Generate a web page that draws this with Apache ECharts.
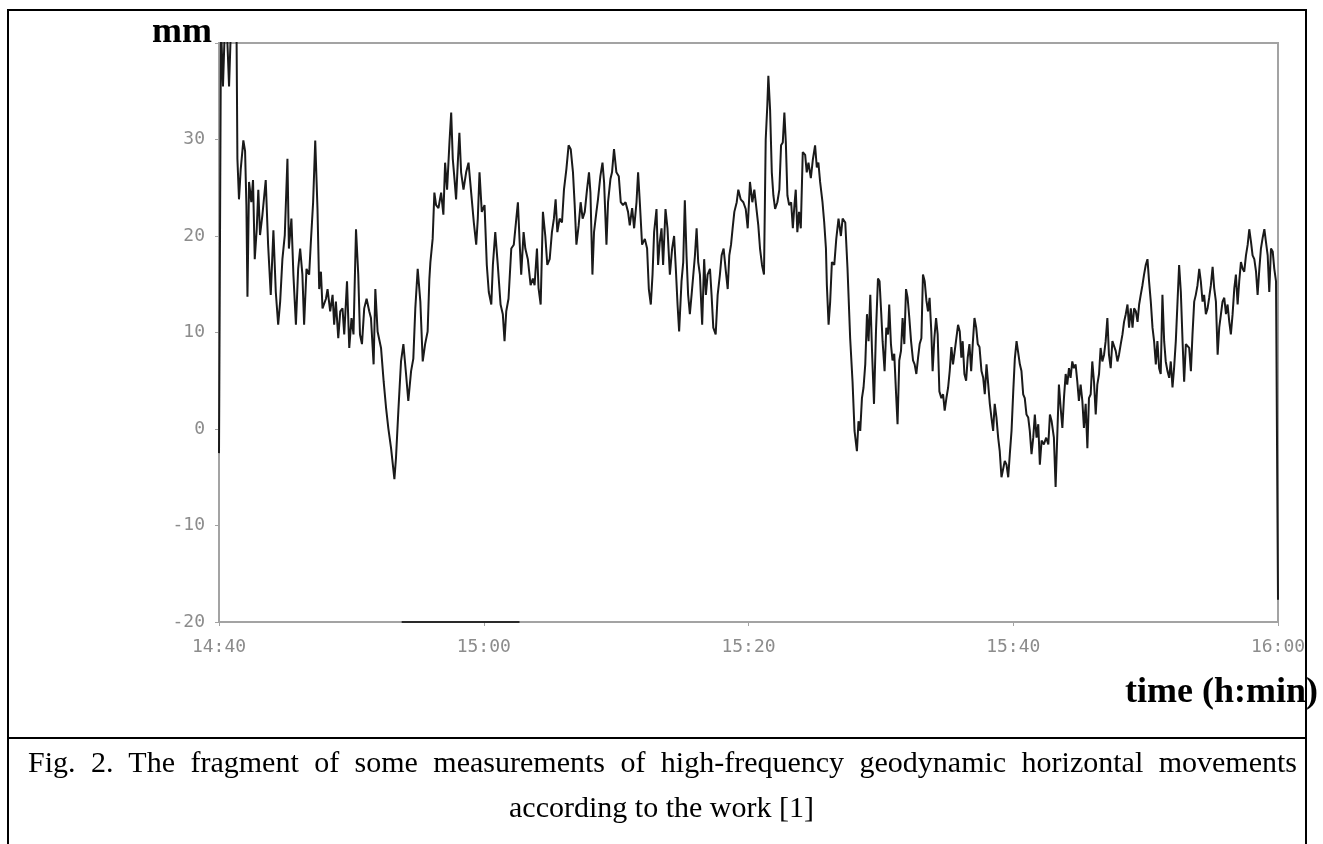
<!DOCTYPE html>
<html>
<head>
<meta charset="utf-8">
<title>Fig. 2</title>
<script src="https://cdn.jsdelivr.net/npm/echarts@6/dist/echarts.min.js"></script>
<style>
  html, body { margin: 0; padding: 0; background: #fff; }
  #wrap { position: relative; width: 1323px; height: 844px; }
  #chart { position: absolute; left: 0; top: 0; width: 1323px; height: 844px; }
  .cap {
    position: absolute; font-family: "Liberation Serif", "Times New Roman", serif;
    font-size: 30px; color: #000; white-space: nowrap; line-height: 30px;
  }
  #cap1 { left: 28px; width: 1269px; top: 747px; text-align: justify; text-align-last: justify; white-space: normal; }
  #cap2 { left: 0; width: 1323px; top: 792px; text-align: center; }
</style>
</head>
<body>
<div id="wrap">
  <div id="chart"></div>
  <div class="cap" id="cap1"></div>
  <div class="cap" id="cap2"></div>
</div>
<script>
// minutes after 14:40, horizontal displacement in mm
var samples = [
    [0,-2.5],[0.15,42],[0.30,35.5],[0.45,42],[0.61,41],[0.76,35.5],[0.91,42],[1.06,42],[1.32,42],[1.39,28],
    [1.51,23.8],[1.64,26.9],[1.84,29.9],[1.97,28.8],[2.07,23.2],[2.15,13.7],[2.27,25.6],[2.44,23.5],[2.57,25.8],[2.70,17.6],
    [2.85,20.7],[2.97,24.8],[3.10,20.1],[3.28,22.2],[3.53,25.8],[3.71,19.1],[3.91,13.9],[4.11,20.6],[4.29,14.2],[4.47,10.8],
    [4.62,13.2],[4.79,17.6],[4.97,20.1],[5.17,28.0],[5.28,18.7],[5.47,21.8],[5.62,16.0],[5.81,10.8],[5.98,16.6],[6.13,18.7],
    [6.30,16.0],[6.43,10.8],[6.61,16.6],[6.81,16.0],[6.94,19.4],[7.11,23.5],[7.27,29.9],[7.44,22.8],[7.57,14.5],[7.70,16.3],
    [7.82,12.5],[8.08,13.5],[8.20,14.5],[8.40,12.2],[8.58,13.9],[8.70,10.8],[8.83,13.2],[9.01,9.4],[9.16,12.2],[9.33,12.5],
    [9.46,9.8],[9.67,15.3],[9.84,8.4],[10.01,11.5],[10.16,9.8],[10.35,20.7],[10.52,16.0],[10.65,9.8],[10.80,8.8],[10.97,12.5],
    [11.15,13.5],[11.35,12.2],[11.48,11.5],[11.68,6.7],[11.81,14.5],[11.98,10.1],[12.24,8.4],[12.44,4.9],[12.62,2.2],[12.79,0.1],
    [13.00,-2.0],[13.25,-5.2],[13.37,-3.0],[13.55,1.9],[13.75,7.0],[13.93,8.8],[14.13,5.7],[14.30,2.9],[14.51,6.0],[14.68,7.3],
    [14.83,12.5],[15.01,16.6],[15.21,13.2],[15.39,7.0],[15.57,8.8],[15.76,10.1],[15.89,15.5],[15.97,17.3],[16.14,19.7],[16.27,24.5]
];
var samples2 = [
    [16.40,23.2],[16.58,22.9],[16.78,24.5],[16.95,22.2],[17.08,27.6],[17.23,24.8],[17.41,29.7],[17.54,32.8],[17.66,28.0],[17.79,25.9],
    [17.91,23.8],[18.04,27.6],[18.16,30.7],[18.29,26.6],[18.47,24.8],[18.67,26.6],[18.85,27.6],[19.05,24.5],[19.25,21.4],[19.43,19.1],
    [19.55,21.8],[19.68,26.6],[19.85,22.5],[20.06,23.2],[20.23,17.0],[20.38,14.2],[20.57,12.9],[20.69,17.0],[20.87,20.4],[21.06,17.0],
    [21.27,12.9],[21.44,11.9],[21.57,9.1],[21.70,12.2],[21.87,13.5],[22.08,18.7],[22.27,19.1],[22.46,21.8],[22.58,23.5],[22.71,19.4],
    [22.83,16.0],[23.01,20.4],[23.14,18.7],[23.33,17.6],[23.54,14.9],[23.71,15.6],[23.84,14.9],[24.02,18.7],[24.14,14.6],[24.30,12.9],
    [24.47,22.5],[24.65,20.0],[24.80,17.0],[24.98,17.6],[25.15,20.4],[25.30,21.8],[25.43,23.8],[25.56,20.4],[25.73,21.8],[25.91,21.4],
    [26.06,24.8],[26.24,26.9],[26.41,29.4],[26.57,29.0],[26.74,26.6],[26.87,23.2],[27.00,19.1],[27.17,21.1],[27.32,23.5],[27.47,21.8],
    [27.63,22.5],[27.80,24.8],[27.95,26.6],[28.06,24.5],[28.21,16.0],[28.33,20.4],[28.51,22.5],[28.63,23.8],[28.81,26.2],[28.97,27.6],
    [29.09,25.6],[29.27,19.1],[29.39,23.5],[29.57,25.9],[29.69,26.6],[29.84,29.0],[30.02,26.6],[30.20,26.2],[30.35,23.5],[30.52,23.2],
    [30.71,23.5],[30.90,22.5],[31.03,21.1],[31.21,22.9],[31.36,20.8],[31.54,23.5],[31.66,26.6],[31.79,23.5]
];
var samples3 = [
    [31.96,19.1],[32.17,19.7],[32.34,18.7],[32.47,14.5],[32.62,12.9],[32.75,16.0],[32.87,20.4],[33.05,22.8],[33.17,17.0],[33.30,19.4],
    [33.43,20.8],[33.55,17.0],[33.73,22.8],[33.88,20.8],[34.06,16.0],[34.23,18.7],[34.38,20.0],[34.51,16.6],[34.64,12.9],[34.76,10.1],
    [34.94,15.3],[35.07,17.3],[35.19,23.7],[35.32,17.9],[35.44,13.9],[35.57,11.9],[35.70,13.9],[35.82,13.9],[35.95,17.9],[36.08,20.8],
    [36.20,17.3],[36.33,16.0],[36.50,10.8],[36.65,17.6],[36.78,13.9],[36.91,16.0],[37.09,16.6],[37.21,13.9],[37.34,10.5],[37.52,9.8],
    [37.67,13.9],[37.84,16.0],[37.97,18.0],[38.12,18.7],[38.27,16.6],[38.43,14.5],[38.55,18.0],[38.68,19.1],[38.80,20.8],[38.93,22.5],
    [39.11,23.5],[39.23,24.8],[39.41,23.8],[39.61,23.5],[39.79,22.8],[39.94,20.8],[40.11,25.6],[40.29,23.5],[40.44,24.8],[40.57,23.2],
    [40.74,21.1],[40.87,18.7],[41.02,17.0],[41.17,16.0],[41.30,30.0],[41.42,33.5],[41.50,36.6],[41.63,33.1],[41.76,26.6],[41.88,24.2],
    [42.01,22.8],[42.18,23.5],[42.33,24.8],[42.46,29.4],[42.59,29.7],[42.71,32.8],[42.82,29.7],[42.94,24.2],[43.07,23.2],[43.22,23.5],
    [43.35,20.8],[43.47,23.2],[43.57,24.8],[43.69,20.4],[43.82,22.5],[43.95,20.8],[44.10,28.7],[44.28,28.4],[44.40,26.6],[44.53,27.6],
    [44.71,26.0],[44.86,27.9],[45.03,29.4],[45.16,27.1],[45.28,27.6],[45.41,25.6],[45.59,23.5],[45.72,21.4],[45.85,18.7],[45.92,14.9],
    [46.05,10.8],[46.17,13.2],[46.30,17.3],[46.48,17.0],[46.63,19.7],[46.80,21.8],[46.98,20.0],[47.11,21.8],[47.31,21.4],[47.48,16.6]
];
var samples4 = [
    [47.68,9.4],[47.86,4.9],[48.01,-0.2],[48.19,-2.3],[48.31,0.8],[48.44,-0.2],[48.57,3.2],[48.69,4.3],[48.82,6.7],[48.95,11.9],
    [49.07,9.1],[49.20,13.9],[49.33,8.1],[49.48,2.6],[49.63,10.1],[49.78,15.6],[49.90,15.3],[50.03,11.9],[50.13,9.1],[50.28,6.0],
    [50.41,10.5],[50.54,9.8],[50.63,12.9],[50.76,8.8],[50.88,7.1],[51.01,7.8],[51.14,3.9],[51.26,0.5],[51.39,7.1],[51.52,8.1],
    [51.64,11.5],[51.77,8.8],[51.90,14.5],[52.02,13.6],[52.15,11.5],[52.28,9.1],[52.43,7.1],[52.55,6.7],[52.68,5.7],[52.81,7.4],
    [52.93,8.8],[53.06,9.4],[53.18,16.0],[53.31,15.3],[53.44,13.3],[53.56,12.2],[53.68,13.6],[53.81,10.1],[53.91,6.0],[54.04,9.4],
    [54.17,11.5],[54.29,9.8],[54.42,3.9],[54.57,3.2],[54.70,3.6],[54.82,1.9],[54.95,3.2],[55.08,4.3],[55.20,6.0],[55.33,8.5],
    [55.45,6.7],[55.58,8.1],[55.70,8.1],[55.83,10.8],[55.96,10.1],[56.08,7.4],[56.18,9.1],[56.31,5.7],[56.44,5.0],[56.56,7.4],
    [56.69,8.8],[56.82,6.0],[56.94,8.8],[57.07,11.5],[57.20,10.5],[57.32,8.8],[57.45,8.5],[57.60,6.0],[57.73,5.3],[57.85,3.6],
    [57.98,6.7],[58.11,4.6],[58.23,2.6],[58.35,1.2],[58.48,-0.2],[58.60,2.6],[58.73,1.2],[58.86,-0.9],[58.98,-2.3],[59.11,-5.0],
    [59.24,-5.0],[59.36,-3.3],[59.49,-3.7],[59.62,-5.0],[59.74,-2.6],[59.87,-0.2],[60.00,3.9],[60.12,7.3],[60.25,9.1],[60.37,9.1],
    [60.50,6.7],[60.62,6.0],[60.75,3.6],[60.87,3.2],[61.00,1.5],[61.13,1.2],[61.25,-0.2],[61.38,-2.6],[61.51,-0.9],[61.63,1.5],
    [61.76,-0.9],[61.89,0.5],[62.01,-3.7],[62.14,-1.2],[62.31,-1.6],[62.49,-0.9],[62.65,-1.6],[62.77,1.5],[62.90,0.8],[63.07,-0.9],
    [63.20,-6.0],[63.33,-0.5],[63.45,4.6],[63.58,2.2],[63.71,0.1],[63.83,3.2],[63.96,5.7],[64.08,4.6],[64.21,6.3],[64.33,5.3]
];
var samples5 = [
    [64.46,7.0],[64.58,6.3],[64.71,6.7],[64.84,4.9],[64.96,2.9],[65.09,4.6],[65.22,2.9],[65.34,0.1],[65.47,2.6],[65.60,-2.0],
    [65.72,3.2],[65.85,3.6],[65.97,7.0],[66.10,4.9],[66.23,1.5],[66.35,4.6],[66.48,5.7],[66.60,8.4],[66.73,7.0],[66.86,7.7],
    [66.98,9.1],[67.11,11.5],[67.23,7.7],[67.36,6.3],[67.49,9.1],[67.61,9.1],[67.74,8.1],[67.87,7.0],[67.99,7.7],[68.12,8.8],
    [68.25,9.8],[68.37,11.1],[68.50,11.9],[68.63,12.9],[68.75,10.5],[68.88,12.5],[69.01,10.5],[69.13,12.5],[69.26,12.2],[69.39,11.1],
    [69.51,12.9],[69.63,13.9],[69.76,14.9],[69.88,16.0],[70.01,17.0],[70.14,17.6],[70.26,15.3],[70.39,13.2],[70.52,10.5],[70.64,9.1],
    [70.77,6.7],[70.89,9.1],[71.02,6.3],[71.14,5.7],[71.27,13.9],[71.40,9.1],[71.52,7.0],[71.65,6.0],[71.78,5.3],[71.90,7.0],
    [72.03,4.3],[72.15,6.3],[72.28,9.1],[72.41,13.2],[72.53,17.0],[72.66,14.2],[72.79,9.1],[72.91,4.9],[73.04,8.8],[73.16,8.8],
    [73.29,8.4],[73.42,6.0],[73.54,9.8],[73.67,13.2],[73.79,13.9],[73.92,14.9],[74.05,16.6],[74.17,15.3],[74.30,13.2],[74.42,13.9],
    [74.55,11.9],[74.68,12.5],[74.80,13.6],[74.93,14.9],[75.06,16.8],[75.18,14.6],[75.31,13.2],[75.44,7.7],[75.56,10.5],[75.69,11.9],
    [75.81,13.2],[75.94,13.6],[76.07,11.9],[76.19,12.9],[76.32,11.1],[76.44,9.8],[76.57,11.9],[76.70,14.6],[76.82,16.0],[76.95,12.9],
    [77.07,15.3],[77.20,17.3],[77.33,16.6],[77.45,16.3],[77.58,18.0],[77.71,19.1],[77.83,20.7],[77.96,19.4],[78.08,18.0],[78.21,17.6],
    [78.34,16.3],[78.46,13.9],[78.59,16.6],[78.71,18.7],[78.84,19.8],[78.97,20.7],[79.09,19.4],[79.22,18.0],[79.34,14.2],[79.47,18.7],
    [79.60,18.4],[79.72,16.6],[79.85,15.3],[80.0,-17.7]
];
// dark stretch lying on the bottom edge of the plot
var bottomStroke = [[13.8,-20],[22.7,-20]];

var yTicks = {min: -20, max: 40, step: 10};
var xTicks = {min: 0, max: 80, step: 20};
var startHour = 14, startMin = 40;

var captionLine1 = 'Fig. 2. The fragment of some measurements of high-frequency geodynamic horizontal movements';
var captionLine2 = 'according to the work [1]';

function clockLabel(m) {
    var t = startHour * 60 + startMin + m;
    var h = Math.floor(t / 60), mm = t % 60;
    return h + ':' + (mm < 10 ? '0' + mm : mm);
}

document.getElementById('cap1').textContent = captionLine1;
document.getElementById('cap2').textContent = captionLine2;

var chart = echarts.init(document.getElementById('chart'));
var serif = '"Liberation Serif", "Times New Roman", serif';
var grey = '#a3a3a3';

var option = {
    animation: false,
    grid: {
        left: 219, top: 43, right: 45, bottom: 222,
        show: true, borderColor: grey, borderWidth: 2
    },
    xAxis: {
        type: 'value',
        min: xTicks.min, max: xTicks.max, interval: xTicks.step,
        axisLine: {onZero: false, lineStyle: {color: grey, width: 2}},
        axisTick: {show: true, length: 4, lineStyle: {color: grey}},
        splitLine: {show: false},
        axisLabel: {
            color: '#8c8c8c', fontFamily: 'DejaVu Sans Mono', fontSize: 18, margin: 16,
            formatter: clockLabel
        }
    },
    yAxis: {
        type: 'value',
        min: yTicks.min, max: yTicks.max, interval: yTicks.step,
        axisLine: {show: true, onZero: false, lineStyle: {color: grey, width: 2}},
        axisTick: {show: true, length: 4, lineStyle: {color: grey}},
        splitLine: {show: false},
        axisLabel: {
            color: '#8c8c8c', fontFamily: 'DejaVu Sans Mono', fontSize: 18, margin: 14,
            formatter: function (v) { return v === yTicks.max ? '' : v; }
        }
    },
    series: [
        {
            type: 'line',
            data: samples.concat(samples2, samples3, samples4, samples5),
            symbol: 'none',
            clip: true,
            lineStyle: {color: '#1a1a1a', width: 2}
        },
        {
            type: 'line',
            data: bottomStroke,
            symbol: 'none',
            clip: false,
            lineStyle: {color: '#2a2a2a', width: 2}
        }
    ],
    graphic: [
        {type: 'text', z: 10, style: {x: 152, y: 33, text: 'mm', font: 'bold 36px ' + serif, fill: '#000', verticalAlign: 'middle'}},
        {type: 'text', z: 10, style: {x: 1125, y: 693, text: 'time (h:min)', font: 'bold 36px ' + serif, fill: '#000', verticalAlign: 'middle'}},
        {type: 'rect', z: 20, shape: {x: 8, y: 10, width: 1298, height: 840}, style: {fill: null, stroke: '#000', lineWidth: 2}},
        {type: 'line', z: 20, shape: {x1: 8, y1: 738, x2: 1306, y2: 738}, style: {stroke: '#000', lineWidth: 2}}
    ]
};

chart.setOption(option);
</script>
</body>
</html>
